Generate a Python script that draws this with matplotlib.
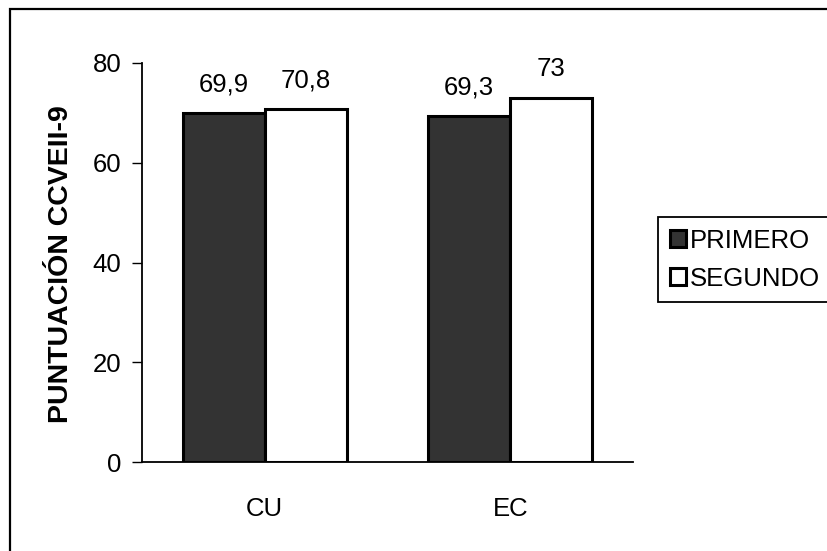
import matplotlib.pyplot as plt
import numpy as np
from matplotlib.patches import Rectangle

plt.rcParams['font.family'] = ['Liberation Sans', 'DejaVu Sans']

# datos de la gráfica
grupos = ['CU', 'EC']
primero = [69.9, 69.3]
segundo = [70.8, 73]
series = ['PRIMERO', 'SEGUNDO']
colores = ['#333333', '#ffffff']

fig = plt.figure(figsize=(8.28, 5.51), dpi=100)
ax = fig.add_axes([142 / 828, 1 - 462 / 551, (633 - 142) / 828, (462 - 63) / 551])

x = np.arange(len(grupos))
ancho = 0.335
for i, (valores, nombre) in enumerate(zip([primero, segundo], series)):
    pos = x + ancho * (i - 0.5)
    barras = ax.bar(pos, valores, width=ancho, color=colores[i], edgecolor='black',
                    linewidth=2.2, label=nombre, zorder=3)
    for b, v in zip(barras, valores):
        etiqueta = f'{v:g}'.replace('.', ',')
        ax.annotate(etiqueta, (b.get_x() + b.get_width() / 2, v), xytext=(0, 12),
                    textcoords='offset points', ha='center', va='bottom', fontsize=18.5)

ax.set_xlim(-0.5, 1.5)
ax.set_ylim(0, 80)
ax.set_yticks([0, 20, 40, 60, 80])
ax.set_xticks(x)
ax.set_xticklabels(grupos)
ax.tick_params(axis='y', labelsize=18.5, length=7, width=1, pad=8)
ax.tick_params(axis='x', labelsize=18.5, length=0, pad=25)
for lado in ['top', 'right']:
    ax.spines[lado].set_visible(False)
ax.spines['left'].set_linewidth(1.3)
ax.spines['bottom'].set_linewidth(1.3)

fig.text(61 / 828, 1 - 264 / 551, 'PUNTUACIÓN CCVEII-9', rotation=90, fontsize=20.5,
         fontweight='bold', ha='center', va='center')

leg = fig.legend(loc='upper left', bbox_to_anchor=(658 / 828, 1 - 217 / 551), fontsize=18.5,
                 frameon=True, fancybox=False, edgecolor='black', framealpha=1,
                 handlelength=0.65, handleheight=0.65, handletextpad=0.15,
                 labelspacing=0.55, borderpad=0.45, borderaxespad=0)
leg.get_frame().set_linewidth(1.3)
for h in leg.legend_handles:
    h.set_linewidth(2.2)

# marco exterior
fig.patches.append(Rectangle((10 / 828, -0.1), 1.2, 1 - 9 / 551 + 0.1, transform=fig.transFigure,
                             fill=False, edgecolor='black', linewidth=1.6))

fig.savefig('out.png', dpi=100)
